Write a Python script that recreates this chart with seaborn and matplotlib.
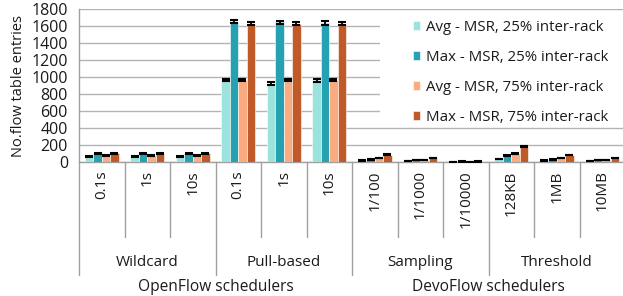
import matplotlib
matplotlib.use("Agg")
import matplotlib.pyplot as plt
import matplotlib.transforms as mtransforms
from matplotlib.lines import Line2D
from matplotlib.patches import Rectangle
import seaborn as sns
import pandas as pd
import numpy as np

# ---------------- data ----------------
sub_labels = ["0.1s", "1s", "10s", "0.1s", "1s", "10s",
              "1/100", "1/1000", "1/10000", "128KB", "1MB", "10MB"]
mid_labels = ["Wildcard", "Pull-based", "Sampling", "Threshold"]
top_labels = ["OpenFlow schedulers", "DevoFlow schedulers"]
series = ["Avg - MSR, 25% inter-rack", "Max - MSR, 25% inter-rack",
          "Avg - MSR, 75% inter-rack", "Max - MSR, 75% inter-rack"]

avg25 = [70, 68, 70, 965, 925, 965, 20, 12, 3, 35, 20, 10]
max25 = [102, 102, 102, 1655, 1645, 1640, 32, 24, 4, 79, 32, 24]
avg75 = [77, 77, 77, 970, 970, 970, 47, 24, 3, 98, 47, 24]
max75 = [102, 102, 102, 1630, 1630, 1630, 87, 47, 4, 177, 83, 47]

err_avg25 = [6, 6, 6, 12, 15, 18, 3, 3, 2, 4, 3, 3]
err_max25 = [6, 6, 6, 20, 20, 20, 3, 3, 2, 5, 3, 3]
err_avg75 = [6, 6, 6, 10, 10, 10, 4, 3, 2, 5, 4, 3]
err_max75 = [6, 6, 6, 20, 20, 20, 5, 4, 2, 6, 5, 4]

colors = ["#9DE3DD", "#25A1B1", "#FBAB80", "#C05A28"]

# ---------------- frame ----------------
keys = [f"{i}" for i in range(len(sub_labels))]
values = [avg25, max25, avg75, max75]
errs = [err_avg25, err_max25, err_avg75, err_max75]
rows = []
for s, vals in zip(series, values):
    for k, v in zip(keys, vals):
        rows.append({"cat": k, "series": s, "value": v})
df = pd.DataFrame(rows)

sns.set_theme(style="white")
plt.rcParams["font.family"] = ["Open Sans", "DejaVu Sans"]

W, H = 623, 296
TXT = "#1a1a1a"
fig = plt.figure(figsize=(W / 100, H / 100), dpi=100)
ax = fig.add_axes([79 / W, 1 - 162 / H, 546 / W, (162 - 9.3) / H])

sns.barplot(data=df, x="cat", y="value", hue="series", order=keys,
            hue_order=series, palette=colors, errorbar=None, width=0.74,
            saturation=1, ax=ax, edgecolor="white", linewidth=0.4, zorder=3)

# error bars at the bar centres
for cont, e in zip(ax.containers, errs):
    xs = [p.get_x() + p.get_width() / 2 for p in cont.patches]
    ys = [p.get_height() for p in cont.patches]
    ax.errorbar(xs, ys, yerr=e, fmt="none", ecolor="black", elinewidth=1.3,
                capsize=2.6, capthick=1.5, zorder=4)

ax.set_ylim(0, 1800)
ax.set_xlim(-0.5, len(keys) - 0.5)
ax.set_yticks(np.arange(0, 1801, 200))
ax.yaxis.grid(True, color="#B4B4B4", linewidth=1.0, zorder=0)
ax.xaxis.grid(False)
ax.set_axisbelow(True)
for sp in ["top", "right"]:
    ax.spines[sp].set_visible(False)
for sp in ["left", "bottom"]:
    ax.spines[sp].set_color("#A0A0A0")
    ax.spines[sp].set_linewidth(1.0)
ax.tick_params(axis="y", length=0, pad=8, labelsize=11.5, colors=TXT)
ax.tick_params(axis="x", length=0, pad=6, labelsize=11, colors=TXT)
ax.set_xticks(range(len(keys)))
ax.set_xticklabels(sub_labels, rotation=90, va="top", ha="center")
ax.set_xlabel("")
ax.set_ylabel("No.flow table entries", fontsize=10.5, labelpad=4, color=TXT)

# multi-level category axis
trans = mtransforms.blended_transform_factory(ax.transData, fig.transFigure)
def fy(py):
    return 1 - py / H
for b in range(len(keys) + 1):
    xb = b - 0.5
    y_end = 275 if b % 3 == 0 else 237
    ax.add_line(Line2D([xb, xb], [fy(162), fy(y_end)], transform=trans,
                       color="#A0A0A0", linewidth=1.0, clip_on=False))
for i, lab in enumerate(mid_labels):
    ax.text(3 * i + 1, fy(262), lab, transform=trans, ha="center", va="center",
            fontsize=11, color=TXT)
for i, lab in enumerate(top_labels):
    ax.text(6 * i + 2.5, fy(287), lab, transform=trans, ha="center", va="center",
            fontsize=11.2, color=TXT)

# white panel behind legend (covers gridlines as in the reference)
ax.add_patch(Rectangle((380 / W, fy(122)), (W - 380) / W, (122 - 12) / H,
                       transform=fig.transFigure, facecolor="white",
                       edgecolor="none", zorder=2, clip_on=False))

# legend
handles, labels = ax.get_legend_handles_labels()
leg = ax.legend(handles, labels, loc="upper left",
                bbox_to_anchor=(413 / W, fy(20)), bbox_transform=fig.transFigure,
                frameon=False, fontsize=10.8, handlelength=0.5, handleheight=0.5,
                handletextpad=0.35, labelspacing=1.0, borderpad=0,
                borderaxespad=0)
leg.set_zorder(10)
for t in leg.get_texts():
    t.set_color(TXT)

fig.savefig("out.png", dpi=100)
